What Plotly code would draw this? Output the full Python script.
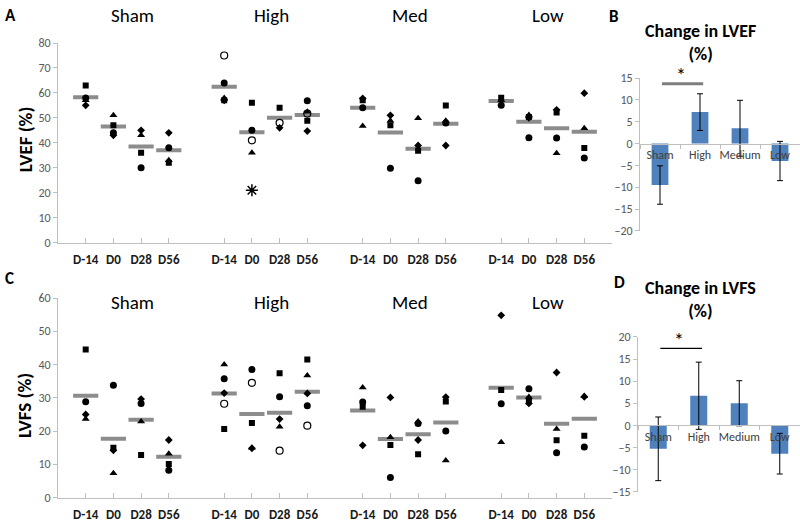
import plotly.graph_objects as go

W, H = 800, 524
FONT = "Calibri, Carlito, Lato, sans-serif"

groups = ["Sham", "High", "Med", "Low"]
timepoints = ["D-14", "D0", "D28", "D56"]
N = None

# LVEF (%) values per marker style, order: Sham D-14..D56, High, Med, Low
lvef_square = [63, 47, 36, 32, 57, 56, 54, 48.8, 57, 47, 36.8, 54.9, 58.1, 50.3, 52.1, 37.9]
lvef_circle = [58, 44, 30, 38, 64, 45, N, 56.8, 54, 29.8, 24.8, 47.9, 55, 42, 41.9, 33.9]
lvef_triangle = [57, 51, 43, 33, 58, 36, N, 52.4, 46.7, 48.8, 49.8, 48.8, 57, 51.1, 35.8, 45.8]
lvef_diamond = [55, 43, 45, 44, 57, N, 46, 44.7, 57.8, 51, 38.9, 38.9, N, 50, 53.2, 59.9]
lvef_open = [N, N, N, N, 75, 41, 48, 51.7, N, N, N, N, N, N, N, N]
lvef_star = [N, N, N, N, N, 21, N, N, N, N, N, N, N, N, N, N]
lvef_mean = [58.3, 46.5, 38.5, 37, 62.5, 44.2, 50, 51.1, 54, 44.1, 37.6, 47.6, 56.7, 48.4, 45.8, 44.4]

# LVFS (%) values
fs_square = [44.5, 15, 12.8, 10.1, 20.6, 22.4, 37.4, 41.5, 27.3, 15.8, 13, 28.9, 32.3, 29.4, 17.2, 18.6]
fs_circle = [28.8, 33.8, 28.3, 8.2, 35.7, 38.5, 30.3, 27.6, 28.7, 6.0, 22.3, 20, 28.2, 32.7, 13.5, 15.2]
fs_triangle = [23.6, 7.3, 22.9, 13.2, 40, 15, 21.3, 36.7, 33.1, 18.1, 22.9, 11.1, 16.6, 30.2, 20.6, 30.5]
fs_diamond = [25, 14.2, 29.6, 17.3, 31.4, 14.8, 23.6, 31.3, 15.7, 30.1, 17.3, 30.2, 54.8, 28.3, 37.6, 30.3]
fs_open = [N, N, N, N, 28.2, 34.5, 14.1, 21.6, N, N, N, N, N, N, N, N]
fs_mean = [30.6, 17.7, 23.4, 12.3, 31.3, 25.1, 25.5, 31.8, 26.2, 17.6, 19, 22.6, 33, 30.1, 22.2, 23.7]

# Change panels
change_cats = ["Sham", "High", "Medium", "Low"]
ef_change = [-9.5, 7.2, 3.5, -4.0]
ef_err = [4.4, 4.2, 6.4, 4.5]
fs_change = [-5.3, 6.7, 5.0, -6.4]
fs_err = [7.2, 7.6, 5.1, 4.6]

# x positions: 4 time points per group with one empty slot between groups
xpos = [g * 5 + t + 1 for g in range(len(groups)) for t in range(len(timepoints))]
ticktext = ["<b>%s</b>" % t for g in groups for t in timepoints]


def px2x(p):
    return p / W


def px2y(p):
    return 1 - p / H


fig = go.Figure()

styles = [
    ("square", dict(symbol="square", size=6, color="black")),
    ("circle", dict(symbol="circle", size=7, color="black")),
    ("triangle", dict(symbol="triangle-up", size=7, color="black")),
    ("diamond", dict(symbol="diamond", size=6, color="black")),
    ("open", dict(symbol="circle-open", size=7, color="black", line=dict(width=1.2, color="black"))),
    ("star", dict(symbol="asterisk-open", size=10, color="black", line=dict(width=1.5, color="black"))),
]
mean_marker = dict(symbol="line-ew", size=18, line=dict(width=4, color="#8c8c8c"))

ef_series = dict(square=lvef_square, circle=lvef_circle, triangle=lvef_triangle,
                 diamond=lvef_diamond, open=lvef_open, star=lvef_star)
fs_series = dict(square=fs_square, circle=fs_circle, triangle=fs_triangle,
                 diamond=fs_diamond, open=fs_open)

for series, xa, ya, mean in [(ef_series, "x", "y", lvef_mean), (fs_series, "x3", "y3", fs_mean)]:
    fig.add_trace(go.Scatter(x=xpos, y=mean, mode="markers", marker=mean_marker,
                             xaxis=xa, yaxis=ya, showlegend=False, hoverinfo="skip"))
    for name, mk in styles:
        if name in series:
            fig.add_trace(go.Scatter(x=xpos, y=series[name], mode="markers", marker=mk,
                                     xaxis=xa, yaxis=ya, showlegend=False, name=name))

for vals, errs, xa, ya in [(ef_change, ef_err, "x2", "y2"), (fs_change, fs_err, "x4", "y4")]:
    fig.add_trace(go.Bar(x=change_cats, y=vals, width=0.42, marker=dict(color="#4f81bd", line=dict(width=0)),
                         error_y=dict(type="data", array=errs, color="black", thickness=1, width=3),
                         xaxis=xa, yaxis=ya, showlegend=False))

# domains
A_x = [px2x(58), px2x(612)]
A_y = [px2y(242), px2y(37)]
C_y = [px2y(504), px2y(299)]
B_x = [px2x(640), 1.0]
B_y = [px2y(230), px2y(73)]
D_x = [px2x(638), 1.0]
D_y = [px2y(498), px2y(339)]

axcol = "#bfbfbf"
tickfont = dict(family=FONT, size=12, color="#595959")

common_x = dict(range=[0, 20], tickmode="array", tickvals=xpos, ticktext=ticktext,
                showline=True, linecolor=axcol, linewidth=1, ticks="inside", ticklen=5,
                tickcolor=axcol, showgrid=False, zeroline=False, tickangle=0,
                tickfont=dict(family=FONT, size=13, color="#1a1a1a"), ticklabelstandoff=5)
common_y = dict(showline=True, linecolor=axcol, linewidth=1, ticks="outside", ticklen=4,
                tickcolor=axcol, showgrid=False, zeroline=False, tickfont=tickfont)


def zero_pos(dom, rng):
    return dom[0] + (0 - rng[0]) / (rng[1] - rng[0]) * (dom[1] - dom[0])


B_range = [-20, 15]
D_range = [-15, 20]
bar_x = dict(type="category", range=[-0.5, 3.5], showline=True, linecolor=axcol, linewidth=1,
             ticks="outside", ticklen=4, tickcolor=axcol, tickson="boundaries",
             showgrid=False, zeroline=False, anchor="free", tickangle=0,
             tickfont=dict(family=FONT, size=12, color="#404040"))

fig.update_layout(
    width=W, height=H, margin=dict(l=0, r=0, t=0, b=0),
    paper_bgcolor="white", plot_bgcolor="white",
    font=dict(family=FONT, color="black"),
    xaxis=dict(domain=A_x, anchor="y", **common_x),
    yaxis=dict(domain=A_y, anchor="x", range=[0, 80], dtick=10, **common_y),
    xaxis3=dict(domain=A_x, anchor="y3", **common_x),
    yaxis3=dict(domain=C_y, anchor="x3", range=[0, 60], dtick=10, **common_y),
    xaxis2=dict(domain=B_x, position=zero_pos(B_y, B_range), **bar_x),
    yaxis2=dict(domain=B_y, anchor="x2", range=B_range, dtick=5, **common_y),
    xaxis4=dict(domain=D_x, position=zero_pos(D_y, D_range), **bar_x),
    yaxis4=dict(domain=D_y, anchor="x4", range=D_range, dtick=5, **common_y),
    bargap=0.5,
)

ann = []


def add_text(text, x, y, xref="paper", yref="paper", size=17, **kw):
    ann.append(dict(text=text, x=x, y=y, xref=xref, yref=yref, showarrow=False,
                    xanchor="center", yanchor="middle",
                    font=dict(family=FONT, size=size, color="black"), **kw))


# panel letters
for txt, x, y in [("A", 10, 9), ("B", 614, 10), ("C", 9, 279), ("D", 619, 283)]:
    add_text("<b>%s</b>" % txt, px2x(x), px2y(y), size=17)
# group labels
for g, name in enumerate(groups):
    for xa, ypx in [("x", 9), ("x3", 304)]:
        add_text(name, g * 5 + 2.7, px2y(ypx), xref=xa, size=19)
# y titles
add_text("<b>LVEF (%)</b>", px2x(25), px2y(136), size=19, textangle=-90)
add_text("<b>LVFS (%)</b>", px2x(24), px2y(410), size=19, textangle=-90)
# bar panel titles
add_text("<b>Change in LVEF<br>(%)</b>", px2x(700), px2y(36), size=18)
add_text("<b>Change in LVFS<br>(%)</b>", px2x(700), px2y(301), size=18)
# significance stars
add_text("*", 0.52, 13.7, xref="x2", yref="y2", size=20, yshift=9)
add_text("*", 0.52, 17.4, xref="x4", yref="y4", size=20, yshift=8)
fig.update_layout(annotations=ann)

fig.add_shape(type="line", x0=0.05, x1=1.08, y0=13.7, y1=13.7, xref="x2", yref="y2",
              line=dict(color="#7f7f7f", width=3))
fig.add_shape(type="line", x0=0.05, x1=1.08, y0=17.4, y1=17.4, xref="x4", yref="y4",
              line=dict(color="black", width=1.3))

fig.write_html("out.html", config={"displayModeBar": False},
               post_script="document.body.style.margin='0';")
